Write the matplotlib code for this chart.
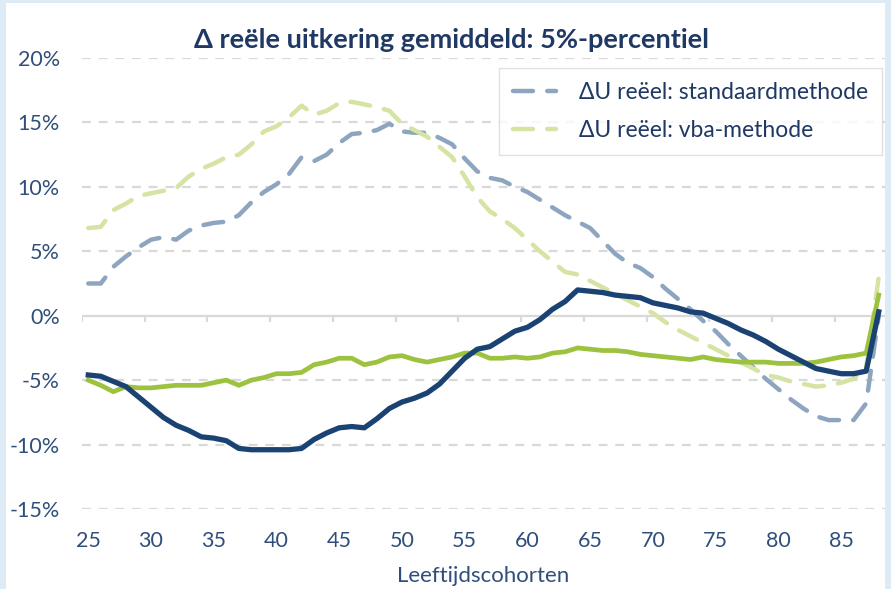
import numpy as np
import matplotlib.pyplot as plt
from matplotlib.patches import Rectangle

# ages 25..88
ages = list(range(25, 89))

standaard = [2.5, 2.5, 3.8, 4.6, 5.3, 5.9, 6.1, 5.9, 6.6, 7.0,
             7.2, 7.3, 7.8, 8.8, 9.6, 10.2, 11.0, 12.3, 12.0, 12.5,
             13.4, 14.1, 14.2, 14.4, 14.9, 14.3, 14.2, 14.2, 13.8, 13.3,
             12.2, 11.2, 10.7, 10.5, 10.0, 9.6, 9.0, 8.4, 7.8, 7.3,
             6.8, 5.8, 4.8, 4.1, 3.7, 3.0, 2.1, 1.3, 0.5, -0.4,
             -1.2, -2.2, -3.1, -4.0, -4.9, -5.7, -6.5, -7.2, -7.8, -8.1,
             -8.1, -8.1, -6.8, 0.0]

vba = [6.8, 6.9, 8.2, 8.7, 9.3, 9.5, 9.7, 9.9, 10.8, 11.4,
       11.8, 12.3, 12.5, 13.3, 14.3, 14.7, 15.4, 16.3, 15.6, 15.9,
       16.5, 16.6, 16.4, 16.2, 15.9, 14.9, 14.4, 13.9, 13.1, 12.3,
       10.8, 9.2, 8.1, 7.5, 6.8, 5.9, 5.0, 4.2, 3.4, 3.2,
       2.7, 2.2, 1.7, 1.2, 0.7, 0.2, -0.5, -1.1, -1.6, -2.1,
       -2.6, -3.1, -3.6, -4.1, -4.6, -4.8, -5.1, -5.3, -5.5, -5.4,
       -5.2, -4.9, -4.0, 3.0]

navy = [-4.6, -4.7, -5.1, -5.5, -6.3, -7.1, -7.9, -8.5, -8.9, -9.4,
        -9.5, -9.7, -10.3, -10.4, -10.4, -10.4, -10.4, -10.3, -9.6, -9.1,
        -8.7, -8.6, -8.7, -8.0, -7.2, -6.7, -6.4, -6.0, -5.3, -4.3,
        -3.3, -2.6, -2.4, -1.8, -1.2, -0.9, -0.3, 0.5, 1.1, 2.0,
        1.9, 1.8, 1.6, 1.5, 1.4, 1.0, 0.8, 0.6, 0.3, 0.2,
        -0.2, -0.6, -1.1, -1.5, -2.0, -2.6, -3.1, -3.6, -4.1, -4.3,
        -4.5, -4.5, -4.3, 0.3]

green = [-5.0, -5.4, -5.9, -5.5, -5.6, -5.6, -5.5, -5.4, -5.4, -5.4,
         -5.2, -5.0, -5.4, -5.0, -4.8, -4.5, -4.5, -4.4, -3.8, -3.6,
         -3.3, -3.3, -3.8, -3.6, -3.2, -3.1, -3.4, -3.6, -3.4, -3.2,
         -2.9, -2.9, -3.3, -3.3, -3.2, -3.3, -3.2, -2.9, -2.8, -2.5,
         -2.6, -2.7, -2.7, -2.8, -3.0, -3.1, -3.2, -3.3, -3.4, -3.2,
         -3.4, -3.5, -3.6, -3.6, -3.6, -3.7, -3.7, -3.7, -3.6, -3.4,
         -3.2, -3.1, -2.9, 1.6]

xticks = [25, 30, 35, 40, 45, 50, 55, 60, 65, 70, 75, 80, 85]
yticks = [-15, -10, -5, 0, 5, 10, 15, 20]

plt.rcParams['font.family'] = ['Lato', 'DejaVu Sans']

TXT = "#2F4F7A"
TITLE = "#1F3864"

fig = plt.figure(figsize=(8.91, 5.89), dpi=100)
fig.patch.set_facecolor("#DDEBF7")
fig.add_artist(Rectangle((6 / 891, 0), (885 - 6) / 891, 1 - 3 / 589,
                         transform=fig.transFigure, facecolor="white",
                         edgecolor="none", zorder=0))

ax = fig.add_axes([82 / 891, 1 - 509 / 589, 803 / 891, 451 / 589])
ax.set_facecolor("none")

for y in yticks:
    if y != 0:
        ax.axhline(y, color="#D9D9D9", lw=1.6, dashes=(4, 3.5), zorder=1)
ax.axhline(0, color="#D9D9D9", lw=1.6, zorder=1)
# category-axis tick marks on the zero line
ax.vlines(np.arange(24.5, 89, 5), 0, -0.5, color="#D9D9D9", lw=1.6, zorder=1)

dash = (4.5, 3.2)
ax.plot(ages, standaard, color="#8EA5C0", lw=3.2, dashes=dash,
        dash_capstyle="round", solid_joinstyle="round", zorder=2,
        label="ΔU reëel: standaardmethode")
ax.plot(ages, vba, color="#D5E3A3", lw=3.2, dashes=dash,
        dash_capstyle="round", zorder=2, label="ΔU reëel: vba-methode")
ax.plot(ages, green, color="#9CC23F", lw=3.4, solid_joinstyle="round", zorder=3)
ax.plot(ages, navy, color="#1A4373", lw=3.8, solid_joinstyle="round", zorder=4)

ax.set_xlim(24.5, 88.5)
ax.set_ylim(-15, 20)
ax.set_xticks(xticks)
ax.set_yticks(yticks)
ax.set_yticklabels([f"{v}%" for v in yticks])
ax.tick_params(axis="both", length=0, labelsize=15.5, colors=TXT)
ax.tick_params(axis="y", pad=16)
ax.tick_params(axis="x", pad=16)
for s in ax.spines.values():
    s.set_visible(False)

ax.set_xlabel("Leeftijdscohorten", fontsize=16, color=TXT, labelpad=11)

fig.text(452 / 891, 1 - 40 / 589, "Δ reële uitkering gemiddeld: 5%-percentiel",
         ha="center", va="center", fontsize=19.5, fontweight="bold", color=TITLE)

leg = ax.legend(loc="upper right", bbox_to_anchor=(0.9963, 0.978),
                fontsize=16.5, handlelength=1.9, frameon=True, fancybox=False,
                borderpad=0.6, labelspacing=0.75, handletextpad=1.0,
                borderaxespad=0.0)
leg.get_frame().set_edgecolor("#D9D9D9")
leg.get_frame().set_linewidth(1.0)
for t in leg.get_texts():
    t.set_color(TITLE)

fig.savefig("out.png", dpi=100, facecolor=fig.get_facecolor())
